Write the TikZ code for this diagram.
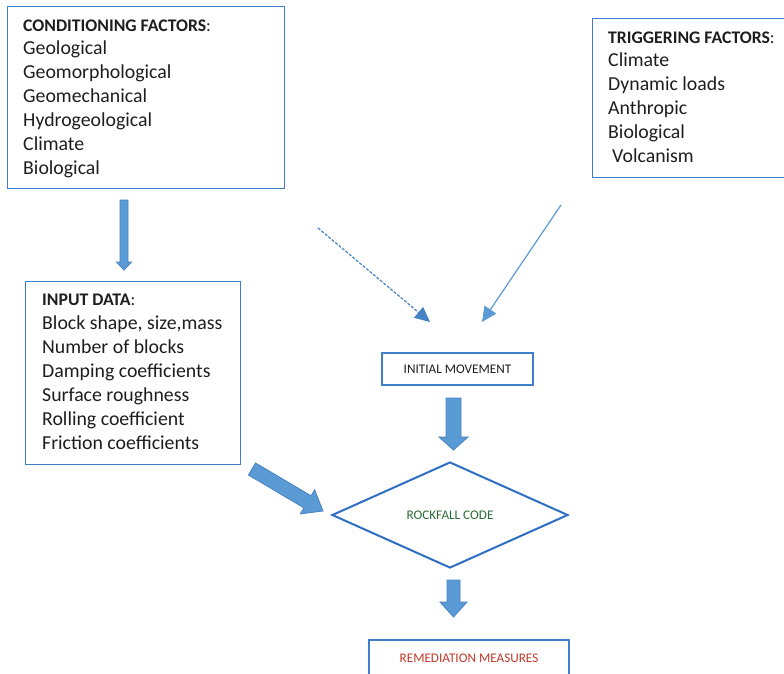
\documentclass[tikz,border=0pt]{standalone}
\usepackage{fontspec}
\setmainfont{Carlito}
\usetikzlibrary{calc,arrows.meta,shapes.geometric}
\definecolor{boxblue}{HTML}{3F7FCB}
\definecolor{diablue}{HTML}{2E6EC4}
\definecolor{arrfill}{HTML}{5B9BD5}
\definecolor{arredge}{HTML}{4683C4}
\definecolor{thinblue}{HTML}{5B9BD5}
\definecolor{codegreen}{HTML}{2D6A3A}
\definecolor{remred}{HTML}{C0392B}
\definecolor{txt}{HTML}{1E1E1E}
\tikzset{
  framebox/.style={draw=boxblue, line width=1.3pt, fill=white, inner sep=0pt},
  titletxt/.style={anchor=base west, inner sep=0pt, text=txt, font=\fontsize{17.7}{20}\selectfont},
  itemtxt/.style={anchor=base west, inner sep=0pt, text=txt, font=\fontsize{19.8}{24}\selectfont},
  smalltxt/.style={font=\fontsize{13.2}{15}\selectfont},
  blockarrow/.style={fill=arrfill, draw=arredge, line width=0.8pt, line join=miter},
  thinarrow/.style={draw=thinblue, line width=1.2pt, -{Triangle[length=15pt,width=14pt]}},
}
\newcommand{\blockarr}[6]{%
  \coordinate (#1h) at ($(#3)!#6!(#2)$);
  \filldraw[blockarrow] ($(#2)!#4!90:(#3)$) -- ($(#1h)!#4!-90:(#2)$) -- ($(#1h)!#5!-90:(#2)$) -- (#3) -- ($(#1h)!#5!90:(#2)$) -- ($(#1h)!#4!90:(#2)$) -- ($(#2)!#4!-90:(#3)$) -- cycle;
}
\begin{document}
\begin{tikzpicture}[x=1pt,y=-1pt]
\useasboundingbox (0,0) rectangle (784,673);
\fill[white] (0,0) rectangle (784,673);

% Conditioning factors
\node[framebox, minimum width=277pt, minimum height=182pt, anchor=north west] (cond) at (7,6) {};
\node[titletxt] (condtitle) at (23,31) {\textbf{CONDITIONING FACTORS}:};
\foreach \t [count=\i] in {Geological, Geomorphological, Geomechanical, Hydrogeological, Climate, Biological}
  \node[itemtxt] (c\i) at (23,30+24*\i) {\t};

% Triggering factors
\node[framebox, minimum width=200pt, minimum height=159pt, anchor=north west] (trig) at (592,18) {};
\node[titletxt] (trigtitle) at (608,43) {\textbf{TRIGGERING FACTORS}:};
\foreach \t [count=\i] in {Climate, Dynamic loads, Anthropic, Biological, \hspace{4pt}Volcanism}
  \node[itemtxt] (t\i) at (608,42+24*\i) {\t};

% Input data
\node[framebox, minimum width=215pt, minimum height=183pt, anchor=north west] (input) at (25,281) {};
\node[titletxt] (inputtitle) at (42,305) {\textbf{INPUT DATA}:};
\foreach \t [count=\i] in {{Block shape, size,mass}, Number of blocks, Damping coefficients, Surface roughness, Rolling coefficient, Friction coefficients}
  \node[itemtxt] (d\i) at (42,305+24*\i) {\t};

% Initial movement
\node[framebox, smalltxt, minimum width=151pt, minimum height=32pt, text=txt] (init) at (457.5,369) {INITIAL MOVEMENT};

% Rockfall code
\node[diamond, draw=diablue, line width=2pt, minimum width=236pt, minimum height=106pt, inner sep=0pt, smalltxt, text=codegreen] (code) at (450,515) {ROCKFALL CODE};

% Remediation measures
\node[framebox, smalltxt, minimum width=200pt, minimum height=36pt, text=remred] (rem) at (469,658) {REMEDIATION MEASURES};

% Block arrows
\coordinate (a1s) at (124,200); \coordinate (a1e) at (124,270);
\blockarr{a1}{a1s}{a1e}{4pt}{7.5pt}{8pt}
\coordinate (a2s) at (453.5,398); \coordinate (a2e) at (453.5,450);
\blockarr{a2}{a2s}{a2e}{7.5pt}{14.5pt}{13pt}
\coordinate (a3s) at (453.5,580); \coordinate (a3e) at (453.5,617);
\blockarr{a3}{a3s}{a3e}{6.5pt}{13.5pt}{15pt}
\coordinate (a4s) at (252,469); \coordinate (a4e) at (323,511);
\blockarr{a4}{a4s}{a4e}{7pt}{14pt}{18pt}

% Thin arrows
\coordinate (ds) at (318,228); \coordinate (de) at (430,322);
\draw[thinarrow, dash pattern=on 3pt off 1.5pt, draw=arredge] (ds) -- (de);
\coordinate (ss) at (561,205); \coordinate (se) at (482,322);
\draw[thinarrow] (ss) -- (se);
\end{tikzpicture}
\end{document}
